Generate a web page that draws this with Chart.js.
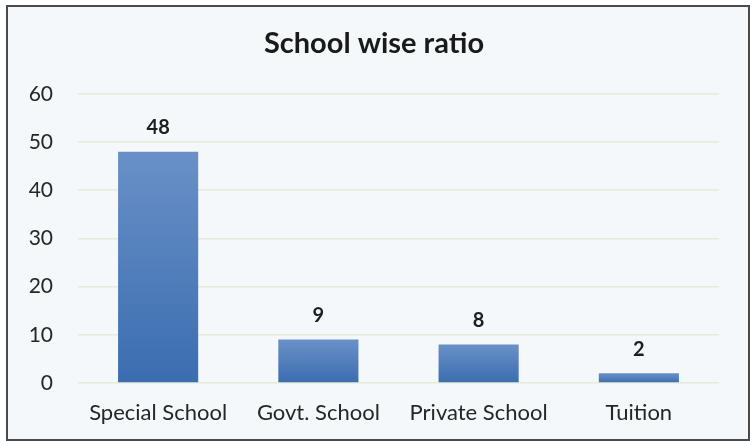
<!DOCTYPE html>
<html><head><meta charset="utf-8">
<script src="https://cdn.jsdelivr.net/npm/chart.js@4"></script>
<style>
html,body{margin:0;padding:0;background:#ffffff;}
#box{position:absolute;left:6px;top:5px;width:740px;height:432px;border:2px solid #4a4a4a;background:#f4f8fb;}
canvas{display:block;}
</style></head><body>
<div id="box"><canvas id="c" width="740" height="432"></canvas></div>
<script>
const categories = ["Special School", "Govt. School", "Private School", "Tuition"];
const values = [48, 9, 8, 2];
const yTicks = [0, 10, 20, 30, 40, 50, 60];
const titleText = "School wise ratio";

const FONT = 'Lato, "Open Sans", sans-serif';

const labelPlugin = {
  id: 'valLabels',
  afterDatasetsDraw(chart) {
    const ctx = chart.ctx;
    const meta = chart.getDatasetMeta(0);
    ctx.save();
    ctx.font = 'bold 20px ' + FONT;
    ctx.fillStyle = '#1e1e1e';
    ctx.textAlign = 'center';
    ctx.textBaseline = 'middle';
    meta.data.forEach((el, i) => {
      ctx.fillText(String(values[i]), el.x, el.y - 24);
    });
    ctx.restore();
  }
};

new Chart(document.getElementById('c'), {
  type: 'bar',
  data: {
    labels: categories,
    datasets: [{
      data: values,
      backgroundColor: (c) => {
        const chart = c.chart;
        const ys = chart.scales.y;
        if (!ys || c.raw === undefined) return '#4a7cc0';
        const top = ys.getPixelForValue(c.raw);
        const bot = ys.getPixelForValue(0);
        if (!isFinite(top) || !isFinite(bot) || top === bot) return '#4a7cc0';
        const g = chart.ctx.createLinearGradient(0, top, 0, bot);
        g.addColorStop(0, '#6a90c7');
        g.addColorStop(1, '#3a6db0');
        return g;
      },
      borderWidth: 0,
      barPercentage: 0.5,
      categoryPercentage: 1.0
    }]
  },
  options: {
    responsive: false,
    animation: false,
    layout: { padding: { left: 21, right: 29, top: 0, bottom: 0 } },
    plugins: {
      legend: { display: false },
      tooltip: { enabled: false },
      title: {
        display: true,
        text: titleText,
        color: '#1a1a1a',
        font: { family: FONT, size: 29, weight: 'bold' },
        padding: { top: 19, bottom: 33 }
      }
    },
    scales: {
      x: {
        afterFit: (s) => { s.height = 56; },
        grid: { display: false, drawTicks: false },
        border: { display: false },
        ticks: { color: '#262626', font: { family: FONT, size: 22 }, padding: 17, maxRotation: 0, autoSkip: false }
      },
      y: {
        min: 0, max: 60,
        afterFit: (s) => { s.width = 49; },
        afterBuildTicks: (axis) => { axis.ticks = yTicks.map(v => ({ value: v })); },
        grid: { color: '#e6ecd6', lineWidth: 1.5, drawTicks: false },
        border: { display: false },
        ticks: { color: '#262626', font: { family: FONT, size: 21 }, padding: 25 }
      }
    }
  },
  plugins: [labelPlugin]
});
</script>
</body></html>
